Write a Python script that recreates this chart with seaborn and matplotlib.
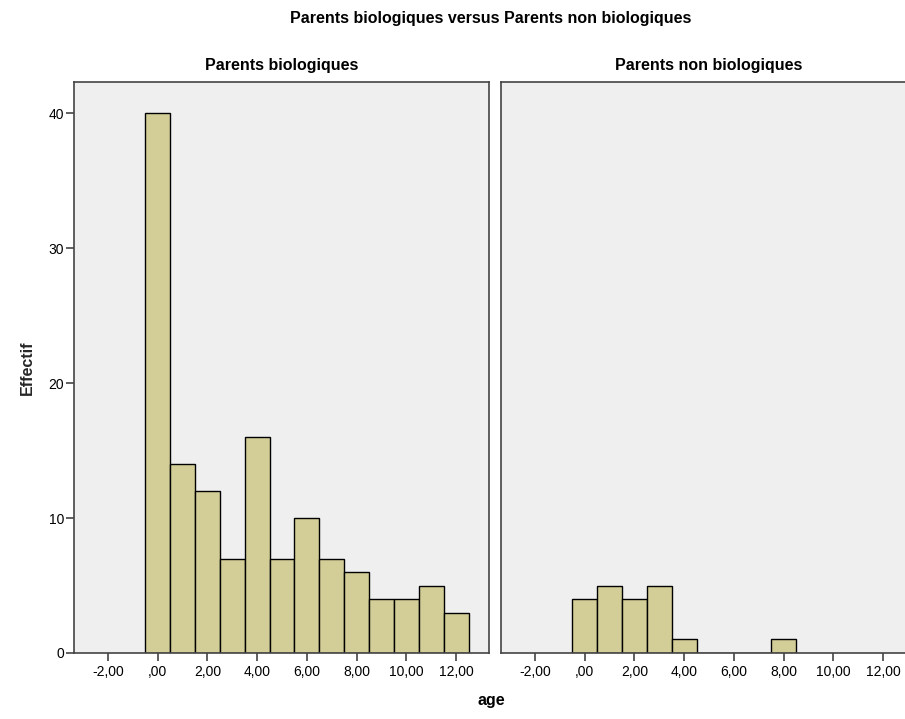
import pandas as pd
import matplotlib.pyplot as plt
import seaborn as sns

# histogram counts (bins of width 1, centred on integer ages)
ages = [0, 1, 2, 3, 4, 5, 6, 7, 8, 9, 10, 11, 12]
bio_counts = [40, 14, 12, 7, 16, 7, 10, 7, 6, 4, 4, 5, 3]
nonbio_ages = [0, 1, 2, 3, 4, 8]
nonbio_counts = [4, 5, 4, 5, 1, 1]

panel_titles = ["Parents biologiques", "Parents non biologiques"]
xtick_values = [-2, 0, 2, 4, 6, 8, 10, 12]
xtick_labels = ["-2,00", ",00", "2,00", "4,00", "6,00", "8,00", "10,00", "12,00"]
ytick_values = [0, 10, 20, 30, 40]

df = pd.concat([
    pd.DataFrame({"age": ages, "n": bio_counts, "groupe": panel_titles[0]}),
    pd.DataFrame({"age": nonbio_ages, "n": nonbio_counts, "groupe": panel_titles[1]}),
])

sns.set_style("white")
plt.rcParams['font.family'] = ['Liberation Sans', 'DejaVu Sans']
plt.rcParams['text.color'] = 'black'
plt.rcParams['xtick.color'] = 'black'
plt.rcParams['ytick.color'] = 'black'

bar_color = "#D3CE97"
bg = "#EFEFEF"
frame = "#444444"

fig = plt.figure(figsize=(9.05, 7.19), dpi=100)
fig.patch.set_facecolor("white")
ax1 = fig.add_axes([0.0818, 0.0918, 0.4586, 0.794])
ax2 = fig.add_axes([0.5536, 0.0918, 0.4586, 0.794])

for ax, title in zip([ax1, ax2], panel_titles):
    sub = df[df["groupe"] == title]
    sns.histplot(data=sub, x="age", weights="n", discrete=True, ax=ax,
                 color=bar_color, alpha=1, edgecolor="black", linewidth=1)
    ax.set_facecolor(bg)
    ax.set_xlim(-3.36, 13.32)
    ax.set_ylim(0, 42.3)
    ax.set_xticks(xtick_values)
    ax.set_xticklabels(xtick_labels, fontsize=10)
    ax.set_title(title, fontsize=11.5, fontweight="bold", pad=9)
    ax.set_xlabel("")
    ax.set_ylabel("")
    for s in ax.spines.values():
        s.set_color(frame)
        s.set_linewidth(1.2)
    ax.tick_params(axis="x", bottom=True, direction="out", length=6, width=1.2,
                   color=frame, labelcolor="black", pad=3)

ax1.set_yticks(ytick_values)
ax1.set_yticklabels([str(v) for v in ytick_values], fontsize=10)
ax1.tick_params(axis="y", left=True, direction="out", length=6, width=1.2,
                color=frame, labelcolor="black", pad=1)
ax2.set_yticks([])

ax1.set_ylabel("Effectif", fontsize=11.5, fontweight="bold", labelpad=10)
fig.text(0.5425, 0.02, "age", ha="center", fontsize=11.5, fontweight="bold")
fig.text(0.5425, 0.974, "Parents biologiques versus Parents non biologiques",
         ha="center", va="center", fontsize=11.5, fontweight="bold")

plt.savefig("out.png", dpi=100)
